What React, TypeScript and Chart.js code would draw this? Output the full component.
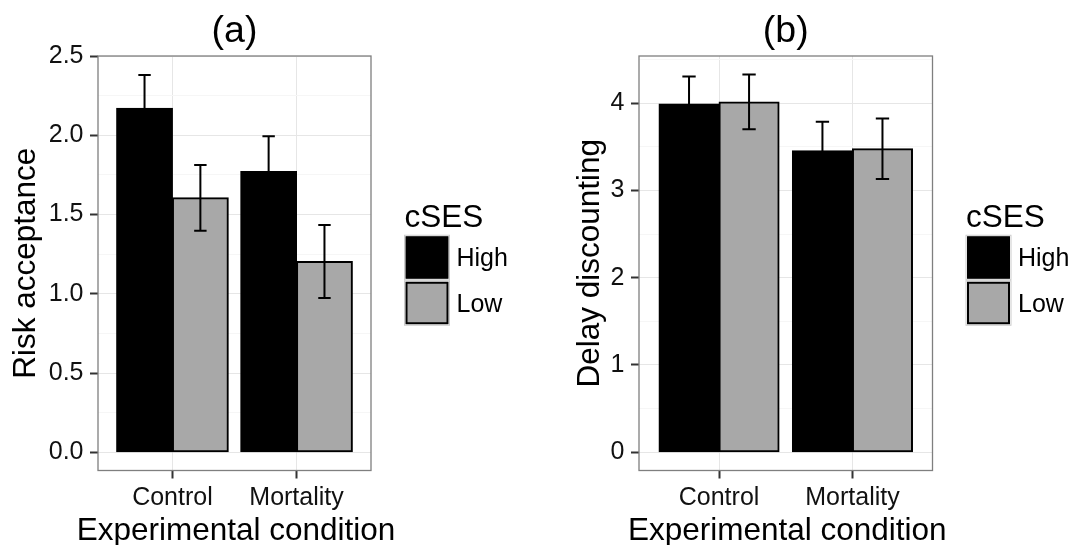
import React, { useEffect, useRef } from "react";
import { Chart, registerables } from "chart.js";

Chart.register(...registerables);
Chart.defaults.font.family = "'Liberation Sans', Arial, Helvetica, sans-serif";

// ---- data ----
const categories = ["Control", "Mortality"];
const groups = ["High", "Low"];
const groupColors = ["#000000", "#a8a8a8"];
const legendTitle = "cSES";
const xTitle = "Experimental condition";

const riskHigh = [2.17, 1.772];
const riskLow = [1.605, 1.204];
const riskHighErr = [0.21, 0.222];
const riskLowErr = [0.208, 0.23];
const riskTicks = [0, 0.5, 1, 1.5, 2, 2.5];
const riskTickLabels = ["0.0", "0.5", "1.0", "1.5", "2.0", "2.5"];

const delayHigh = [3.992, 3.457];
const delayLow = [4.016, 3.478];
const delayHighErr = [0.315, 0.332];
const delayLowErr = [0.313, 0.347];
const delayTicks = [0, 1, 2, 3, 4];
const delayTickLabels = ["0", "1", "2", "3", "4"];

const FONT = "'Liberation Sans', Arial, sans-serif";
const TITLE_SIZE = 31.5;
const TICK_SIZE = 25;

type PanelProps = {
  title: string;
  yTitle: string;
  high: number[];
  low: number[];
  highErr: number[];
  lowErr: number[];
  majorTicks: number[];
  tickLabels: string[];
  yMin: number;
  yMax: number;
  canvasWidth: number;
  left: number;
  axisWidth: number;
  areaRight: number;
  yTitlePad: number;
};

const near = (a: number, b: number) => Math.abs(a - b) < 1e-6;

function Panel(p: PanelProps) {
  const ref = useRef<HTMLCanvasElement | null>(null);
  useEffect(() => {
    if (!ref.current) return;
    const step = p.majorTicks[1] - p.majorTicks[0];
    const allTicks: number[] = [];
    p.majorTicks.forEach((v) => {
      allTicks.push(v);
      if (v + step / 2 < p.yMax) allTicks.push(v + step / 2);
    });
    allTicks.sort((a, b) => a - b);
    const isMajor = (v: number) => p.majorTicks.some((m) => near(m, v));
    const errs = [p.highErr, p.lowErr];
    const means = [p.high, p.low];

    const errorBars = {
      id: "errorBars",
      afterDatasetsDraw(chart: any) {
        const ctx = chart.ctx;
        const xs = chart.scales.x;
        const ys = chart.scales.y;
        const half = Math.abs(xs.getPixelForValue(1.05) - xs.getPixelForValue(1));
        ctx.save();
        ctx.strokeStyle = "#000";
        ctx.lineWidth = 2;
        for (let d = 0; d < 2; d++) {
          const meta = chart.getDatasetMeta(d);
          meta.data.forEach((el: any, i: number) => {
            const x = el.x;
            const yt = ys.getPixelForValue(means[d][i] + errs[d][i]);
            const yb = ys.getPixelForValue(means[d][i] - errs[d][i]);
            ctx.beginPath();
            ctx.moveTo(x, yt);
            ctx.lineTo(x, yb);
            ctx.moveTo(x - half, yt);
            ctx.lineTo(x + half, yt);
            ctx.moveTo(x - half, yb);
            ctx.lineTo(x + half, yb);
            ctx.stroke();
          });
        }
        ctx.restore();
      },
    };

    const frameAndLegend = {
      id: "frameAndLegend",
      afterDraw(chart: any) {
        const ctx = chart.ctx;
        const ca = chart.chartArea;
        ctx.save();
        ctx.strokeStyle = "#7f7f7f";
        ctx.lineWidth = 1.3;
        ctx.strokeRect(ca.left, ca.top, ca.right - ca.left, ca.bottom - ca.top);

        // x axis title (not squeezed to the plot width)
        ctx.fillStyle = "#000";
        ctx.font = `${TITLE_SIZE}px ${FONT}`;
        ctx.textAlign = "center";
        ctx.textBaseline = "middle";
        ctx.fillText(xTitle, (ca.left + ca.right) / 2 + 1.5, 531.5);

        const cy = (ca.top + ca.bottom) / 2;
        const kx = ca.right + 33.5;
        const kw = 45;
        const kh = 44.5;
        ctx.fillStyle = "#000";
        ctx.font = `${TITLE_SIZE}px ${FONT}`;
        ctx.textAlign = "left";
        ctx.textBaseline = "alphabetic";
        ctx.fillText(legendTitle, kx, cy - 36);
        groups.forEach((g, i) => {
          const ky = cy - 28 + i * (kh + 1);
          ctx.fillStyle = "#ffffff";
          ctx.fillRect(kx, ky, kw, kh);
          ctx.strokeStyle = "#cccccc";
          ctx.lineWidth = 1;
          ctx.strokeRect(kx, ky, kw, kh);
          ctx.fillStyle = groupColors[i];
          ctx.fillRect(kx + 1.5, ky + 1.5, kw - 3, kh - 3);
          ctx.strokeStyle = "#000";
          ctx.lineWidth = 2;
          ctx.strokeRect(kx + 2, ky + 2, kw - 4, kh - 4);
          ctx.fillStyle = "#000";
          ctx.font = `${TICK_SIZE}px ${FONT}`;
          ctx.textBaseline = "middle";
          ctx.fillText(g, kx + kw + 7, ky + kh / 2 + 2);
        });
        ctx.restore();
      },
    };

    const chart = new Chart(ref.current, {
      type: "bar",
      data: {
        datasets: groups.map((g, d) => ({
          label: g,
          data: categories.map((_, i) => ({ x: i + 1, y: means[d][i] })),
          backgroundColor: groupColors[d],
          borderColor: "#000",
          borderWidth: 2,
          borderSkipped: false,
          inflateAmount: 0.5,
          categoryPercentage: 0.9,
          barPercentage: 1,
        })),
      },
      options: {
        animation: false,
        responsive: false,
        layout: { padding: { left: 0, top: 0, bottom: 0, right: p.canvasWidth - p.areaRight } },
        plugins: {
          legend: { display: false },
          tooltip: { enabled: false },
          title: {
            display: true,
            text: p.title,
            fullSize: false,
            color: "#000",
            font: { size: 37.5, weight: "normal", lineHeight: 1.2 },
            padding: { top: 9, bottom: 2 },
          },
        },
        scales: {
          x: {
            type: "linear",
            min: 0.4,
            max: 2.6,
            bounds: "data",
            offset: false,
            afterFit: (s: any) => {
              s.height = 74.5;
            },
            afterBuildTicks: (s: any) => {
              s.ticks = categories.map((_, i) => ({ value: i + 1 }));
            },
            ticks: {
              callback: (v: any) => categories[Math.round(Number(v)) - 1] ?? "",
              font: { size: TICK_SIZE },
              color: "#111",
              padding: 4.5,
              maxRotation: 0,
              autoSkip: false,
            },
            grid: {
              offset: false,
              color: "#e6e6e6",
              tickColor: "#333",
              tickLength: 8,
              tickWidth: 2,
              lineWidth: 1,
            },
            border: { display: false },
            title: { display: false },
          },
          y: {
            type: "linear",
            min: p.yMin,
            max: p.yMax,
            bounds: "data",
            afterFit: (s: any) => {
              s.width = p.axisWidth;
            },
            afterBuildTicks: (s: any) => {
              s.ticks = allTicks.map((v) => ({ value: v }));
            },
            ticks: {
              callback: (v: any) => {
                const i = p.majorTicks.findIndex((m) => near(m, Number(v)));
                return i >= 0 ? p.tickLabels[i] : "";
              },
              font: { size: TICK_SIZE },
              color: "#111",
              padding: 6.5,
              autoSkip: false,
            },
            grid: {
              color: (c: any) => (c.tick && isMajor(c.tick.value) ? "#e6e6e6" : "#f6f6f6"),
              tickColor: (c: any) => (c.tick && isMajor(c.tick.value) ? "#333" : "rgba(0,0,0,0)"),
              tickLength: 8,
              tickWidth: 2,
              lineWidth: 1,
            },
            border: { display: false },
            title: {
              display: true,
              text: p.yTitle,
              color: "#000",
              font: { size: TITLE_SIZE },
              padding: { top: p.yTitlePad, bottom: 0 },
            },
          },
        },
      } as any,
      plugins: [errorBars, frameAndLegend],
    });
    return () => chart.destroy();
  }, []);
  return (
    <canvas
      ref={ref}
      width={p.canvasWidth}
      height={545}
      style={{ position: "absolute", left: p.left, top: 0, width: p.canvasWidth, height: 545 }}
    />
  );
}

export default function App() {
  return (
    <div style={{ position: "fixed", left: 0, top: 0, width: 1083, height: 545, background: "#fff", overflow: "hidden" }}>
      <Panel
        title="(a)"
        yTitle="Risk acceptance"
        high={riskHigh}
        low={riskLow}
        highErr={riskHighErr}
        lowErr={riskLowErr}
        majorTicks={riskTicks}
        tickLabels={riskTickLabels}
        yMin={-0.115}
        yMax={2.5}
        canvasWidth={540}
        left={0}
        axisWidth={98}
        areaRight={371}
        yTitlePad={7.5}
      />
      <Panel
        title="(b)"
        yTitle="Delay discounting"
        high={delayHigh}
        low={delayLow}
        highErr={delayHighErr}
        lowErr={delayLowErr}
        majorTicks={delayTicks}
        tickLabels={delayTickLabels}
        yMin={-0.21}
        yMax={4.542}
        canvasWidth={543}
        left={540}
        axisWidth={99}
        areaRight={392.5}
        yTitlePad={31}
      />
    </div>
  );
}
